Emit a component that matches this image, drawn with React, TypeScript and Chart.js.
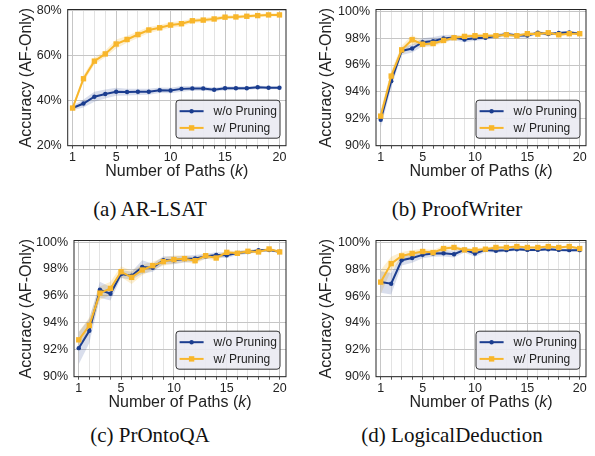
import React, { useEffect, useRef } from "react";
import { Chart, registerables } from "chart.js";

Chart.register(...registerables);
Chart.defaults.font.family = "'Liberation Sans', Arial, sans-serif";

// ---------- data ----------
const K = [1, 2, 3, 4, 5, 6, 7, 8, 9, 10, 11, 12, 13, 14, 15, 16, 17, 18, 19, 20];
const X_TICK_LABELS = [1, 5, 10, 15, 20];
const SERIES_LABELS = ["w/o Pruning", "w/ Pruning"];
const Y_TITLE = "Accuracy (AF-Only)";
const X_TITLE_PARTS: [string, boolean][] = [["Number of Paths (", false], ["k", true], [")", false]];

// (a) AR-LSAT
const arWo = [36.7, 38.7, 41.7, 42.9, 43.9, 43.8, 43.9, 43.9, 44.6, 44.5, 45.2, 45.4, 45.4, 44.8, 45.5, 45.5, 45.5, 45.9, 45.7, 45.7];
const arWoStd = [1.0, 1.8, 2.2, 2.0, 1.8, 1.5, 1.4, 1.3, 1.2, 1.2, 1.3, 1.0, 1.0, 0.9, 0.9, 0.8, 0.8, 0.8, 0.7, 0.7];
const arW = [36.7, 49.7, 57.5, 60.7, 65.1, 67.1, 69.3, 71.3, 72.3, 73.5, 74.1, 75.4, 75.7, 76.2, 77.0, 77.1, 77.4, 77.7, 78.0, 78.0];
const arWStd = [1.0, 1.5, 1.5, 1.5, 2.0, 1.5, 1.5, 1.3, 1.2, 1.2, 1.2, 1.0, 1.0, 1.0, 0.8, 0.8, 0.8, 0.7, 0.7, 0.7];
const arYTicks = [20, 40, 60, 80];

// (b) ProofWriter
const pwWo = [91.93, 94.8, 97.05, 97.23, 97.7, 97.78, 97.98, 98.05, 97.9, 98.0, 98.03, 98.15, 98.3, 98.2, 98.2, 98.4, 98.3, 98.38, 98.43, 98.33];
const pwWoStd = [0.6, 0.5, 0.3, 0.3, 0.3, 0.3, 0.25, 0.2, 0.2, 0.2, 0.15, 0.15, 0.15, 0.15, 0.15, 0.12, 0.12, 0.1, 0.1, 0.1];
const pwW = [92.2, 95.18, 97.13, 97.88, 97.55, 97.6, 97.83, 98.03, 98.13, 98.18, 98.18, 98.18, 98.25, 98.18, 98.33, 98.3, 98.4, 98.25, 98.33, 98.33];
const pwWStd = [0.5, 0.4, 0.3, 0.35, 0.25, 0.2, 0.2, 0.15, 0.15, 0.15, 0.12, 0.12, 0.12, 0.1, 0.1, 0.1, 0.1, 0.1, 0.1, 0.1];

// (c) PrOntoQA
const poWo = [92.12, 93.41, 96.46, 96.16, 97.63, 97.5, 98.15, 98.1, 98.65, 98.65, 98.74, 98.79, 98.94, 99.04, 99.02, 99.19, 99.27, 99.39, 99.41, 99.29];
const poWoStd = [1.2, 0.9, 0.6, 0.5, 0.3, 0.3, 0.5, 0.3, 0.3, 0.3, 0.25, 0.25, 0.2, 0.2, 0.2, 0.15, 0.15, 0.1, 0.1, 0.1];
const poW = [92.74, 93.8, 96.21, 96.56, 97.8, 97.38, 97.93, 98.25, 98.55, 98.7, 98.77, 98.62, 98.99, 98.82, 99.24, 99.17, 99.32, 99.27, 99.49, 99.27];
const poWStd = [0.6, 0.6, 0.5, 0.5, 0.4, 0.5, 0.4, 0.3, 0.3, 0.3, 0.25, 0.25, 0.2, 0.2, 0.15, 0.15, 0.15, 0.1, 0.1, 0.1];

// (d) LogicalDeduction
const ldWo = [97.05, 96.93, 98.68, 98.85, 99.08, 99.18, 99.2, 99.13, 99.45, 99.18, 99.45, 99.38, 99.43, 99.5, 99.45, 99.45, 99.5, 99.45, 99.43, 99.43];
const ldWoStd = [0.8, 0.8, 0.4, 0.35, 0.25, 0.25, 0.25, 0.25, 0.2, 0.25, 0.15, 0.15, 0.12, 0.12, 0.1, 0.1, 0.1, 0.1, 0.1, 0.1];
const ldW = [97.05, 98.43, 99.0, 99.18, 99.33, 99.25, 99.55, 99.63, 99.45, 99.45, 99.5, 99.63, 99.63, 99.7, 99.63, 99.63, 99.7, 99.63, 99.7, 99.55];
const ldWStd = [0.9, 0.5, 0.3, 0.25, 0.2, 0.2, 0.2, 0.15, 0.15, 0.15, 0.12, 0.12, 0.1, 0.1, 0.1, 0.1, 0.1, 0.1, 0.1, 0.1];

const hiYTicks = [90, 92, 94, 96, 98, 100];

// ---------- styles ----------
const BLUE = "#1b3d8f";
const ORANGE = "#f8b62b";
const BLUE_BAND = "rgba(27,61,143,0.17)";
const ORANGE_BAND = "rgba(248,182,43,0.22)";
const TEXT = "#222222";

const CW = 295;
const CH = 190;

type PanelCfg = {
  caption: string;
  wo: number[];
  woStd: number[];
  w: number[];
  wStd: number[];
  yMin: number;
  yMax: number;
  yTicks: number[];
  areaLeft: number;
  left: number;
  top: number;
};

const PANELS: PanelCfg[] = [
  { caption: "(a) AR-LSAT", wo: arWo, woStd: arWoStd, w: arW, wStd: arWStd, yMin: 20, yMax: 80.4, yTicks: arYTicks, areaLeft: 67.7, left: 0, top: 0 },
  { caption: "(b) ProofWriter", wo: pwWo, woStd: pwWoStd, w: pwW, wStd: pwWStd, yMin: 90, yMax: 100.13, yTicks: hiYTicks, areaLeft: 76, left: 300, top: 0 },
  { caption: "(c) PrOntoQA", wo: poWo, woStd: poWoStd, w: poW, wStd: poWStd, yMin: 90, yMax: 100.12, yTicks: hiYTicks, areaLeft: 74, left: 0, top: 231 },
  { caption: "(d) LogicalDeduction", wo: ldWo, woStd: ldWoStd, w: ldW, wStd: ldWStd, yMin: 90, yMax: 100.15, yTicks: hiYTicks, areaLeft: 76, left: 300, top: 231 },
];

const pts = (vals: number[]) => K.map((k, i) => ({ x: k, y: vals[i] }));
const band = (vals: number[], std: number[], s: number) => K.map((k, i) => ({ x: k, y: vals[i] + s * std[i] }));

const decorPlugin = {
  id: "decor",
  afterDraw(chart: any) {
    const { ctx, chartArea: a } = chart;
    ctx.save();
    // frame
    ctx.strokeStyle = "#262626";
    ctx.lineWidth = 1;
    ctx.strokeRect(a.left, a.top, a.right - a.left, a.bottom - a.top);

    // x title with italic k
    ctx.fillStyle = TEXT;
    ctx.textBaseline = "middle";
    ctx.textAlign = "left";
    const normal = "16px 'Liberation Sans', Arial, sans-serif";
    const italic = "italic 16px 'Liberation Sans', Arial, sans-serif";
    let total = 0;
    for (const [t, it] of X_TITLE_PARTS) {
      ctx.font = it ? italic : normal;
      total += ctx.measureText(t).width;
    }
    let x = (a.left + a.right) / 2 - total / 2;
    const ty = a.bottom + 25.5;
    for (const [t, it] of X_TITLE_PARTS) {
      ctx.font = it ? italic : normal;
      ctx.fillText(t, x, ty);
      x += ctx.measureText(t).width;
    }

    // legend
    const w = 104;
    const h = 38;
    const x0 = a.right - 6 - w;
    const y0 = a.bottom - 7.5 - h;
    ctx.beginPath();
    ctx.roundRect(x0, y0, w, h, 3);
    ctx.fillStyle = "rgba(234,234,242,0.9)";
    ctx.fill();
    ctx.strokeStyle = "#333333";
    ctx.lineWidth = 1;
    ctx.stroke();
    const items = [
      { label: chart.data.datasets[1].label, color: BLUE, rect: false },
      { label: chart.data.datasets[0].label, color: ORANGE, rect: true },
    ];
    items.forEach((it, i) => {
      const y = y0 + 11 + i * 16.7;
      ctx.strokeStyle = it.color;
      ctx.lineWidth = 2;
      ctx.beginPath();
      ctx.moveTo(x0 + 3.6, y);
      ctx.lineTo(x0 + 27.6, y);
      ctx.stroke();
      ctx.fillStyle = it.color;
      if (it.rect) {
        ctx.fillRect(x0 + 15.6 - 2.7, y - 2.7, 5.4, 5.4);
      } else {
        ctx.beginPath();
        ctx.arc(x0 + 15.6, y, 2.2, 0, Math.PI * 2);
        ctx.fill();
      }
      ctx.fillStyle = TEXT;
      ctx.font = "12px 'Liberation Sans', Arial, sans-serif";
      ctx.textBaseline = "middle";
      ctx.fillText(it.label, x0 + 37.6, y + 0.5);
    });
    ctx.restore();
  },
};

function Panel({ cfg }: { cfg: PanelCfg }) {
  const ref = useRef<HTMLCanvasElement | null>(null);
  useEffect(() => {
    const chart = new Chart(ref.current as HTMLCanvasElement, {
      type: "line",
      data: {
        datasets: [
          { label: SERIES_LABELS[1], data: pts(cfg.w), borderColor: ORANGE, backgroundColor: ORANGE, pointStyle: "rect", pointRadius: 3.8, pointBorderWidth: 0, borderWidth: 2, fill: false, tension: 0 },
          { label: SERIES_LABELS[0], data: pts(cfg.wo), borderColor: BLUE, backgroundColor: BLUE, pointStyle: "circle", pointRadius: 2.2, pointBorderWidth: 0, borderWidth: 2, fill: false, tension: 0 },
          { label: "wo-upper", data: band(cfg.wo, cfg.woStd, 1), borderColor: "rgba(0,0,0,0)", borderWidth: 0, pointRadius: 0, fill: "+1", backgroundColor: BLUE_BAND, tension: 0 },
          { label: "wo-lower", data: band(cfg.wo, cfg.woStd, -1), borderColor: "rgba(0,0,0,0)", borderWidth: 0, pointRadius: 0, fill: false, tension: 0 },
          { label: "w-upper", data: band(cfg.w, cfg.wStd, 1), borderColor: "rgba(0,0,0,0)", borderWidth: 0, pointRadius: 0, fill: "+1", backgroundColor: ORANGE_BAND, tension: 0 },
          { label: "w-lower", data: band(cfg.w, cfg.wStd, -1), borderColor: "rgba(0,0,0,0)", borderWidth: 0, pointRadius: 0, fill: false, tension: 0 },
        ],
      } as any,
      options: {
        animation: false,
        responsive: false,
        events: [],
        clip: false as any,
        layout: { padding: { left: 0, right: CW - 286, top: 8.3, bottom: CH - 180.6 } },
        plugins: { legend: { display: false }, tooltip: { enabled: false } },
        scales: {
          x: {
            type: "linear",
            min: 0.55,
            max: 20.6,
            afterBuildTicks: (s: any) => { s.ticks = K.map((v) => ({ value: v })); },
            afterFit: (s: any) => { s.height = 180.6 - 145.7; },
            ticks: {
              autoSkip: false,
              maxRotation: 0,
              color: TEXT,
              font: { size: 12.5 },
              padding: 1,
              callback: (v: any) => (X_TICK_LABELS.includes(Number(v)) ? String(v) : ""),
            },
            grid: {
              color: (c: any) => (c.tick && X_TICK_LABELS.includes(c.tick.value) ? "#c6c6c6" : "#e3e3e3"),
              lineWidth: 1,
              tickLength: 3,
              tickColor: "#555555",
            },
            border: { display: false },
          },
          y: {
            type: "linear",
            min: cfg.yMin,
            max: cfg.yMax,
            afterBuildTicks: (s: any) => { s.ticks = cfg.yTicks.map((v) => ({ value: v })); },
            afterFit: (s: any) => { s.width = cfg.areaLeft; },
            ticks: { color: TEXT, font: { size: 12.5 }, padding: 2, callback: (v: any) => `${v}%` },
            grid: { color: "#c6c6c6", lineWidth: 1, tickLength: 4, tickColor: "rgba(0,0,0,0)" },
            border: { display: false },
            title: { display: true, text: Y_TITLE, color: TEXT, font: { size: 16 }, padding: { top: 17.1, bottom: 0 } },
          },
        },
      } as any,
      plugins: [decorPlugin],
    });
    return () => chart.destroy();
  }, [cfg]);
  return (
    <canvas
      ref={ref}
      width={CW}
      height={CH}
      style={{ position: "absolute", left: cfg.left, top: cfg.top, width: CW, height: CH }}
    />
  );
}

export default function App() {
  const capCenters = [
    { x: 150, y: 197.3 },
    { x: 457, y: 197.3 },
    { x: 150, y: 423.3 },
    { x: 452, y: 423.3 },
  ];
  return (
    <div style={{ position: "absolute", left: 0, top: 0, width: 595, height: 456, background: "#ffffff", overflow: "hidden" }}>
      {PANELS.map((p, i) => (
        <React.Fragment key={p.caption}>
          <Panel cfg={p} />
          <div
            style={{
              position: "absolute",
              left: capCenters[i].x - 150,
              top: capCenters[i].y,
              width: 300,
              textAlign: "center",
              fontFamily: "'Liberation Serif', 'Times New Roman', serif",
              fontSize: 21,
              lineHeight: "25px",
              color: "#111111",
              whiteSpace: "nowrap",
            }}
          >
            {p.caption}
          </div>
        </React.Fragment>
      ))}
    </div>
  );
}
